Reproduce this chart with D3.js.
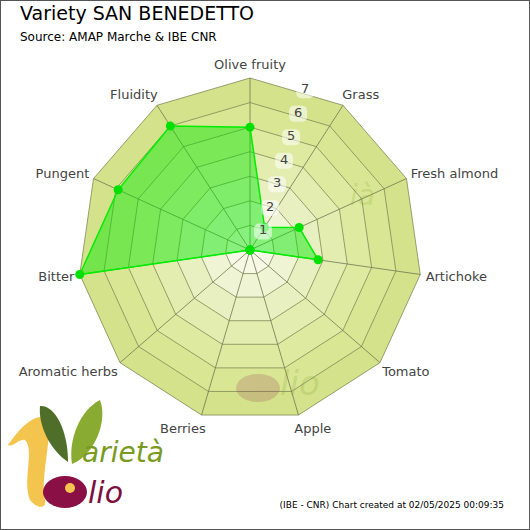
<!DOCTYPE html>
<html><head><meta charset="utf-8">
<script src="https://cdn.jsdelivr.net/npm/d3@7"></script>
<style>body{margin:0;background:#fff}svg{font-family:"DejaVu Sans",sans-serif}</style>
</head><body><div id="chart"></div>
<script>
const axes = ["Olive fruity","Grass","Fresh almond","Artichoke","Tomato","Apple","Berries","Aromatic herbs","Bitter","Pungent","Fluidity"];
const values = [5, 1.1, 2.2, 2.8, 0, 0, 0, 0, 7, 5.9, 6];
const ticks = [1,2,3,4,5,6,7];
const ringColors = ["#f7f9e6","#eff5d4","#e8f0c2","#e3edb0","#deea9f","#d9e694","#d4e28b"];

const W = 530, H = 530, cx = 250, cy = 250, R = 172;
const svg = d3.select("#chart").append("svg").attr("width", W).attr("height", H);
svg.append("rect").attr("x",0.5).attr("y",0.5).attr("width",W-1).attr("height",H-1)
  .attr("fill","#fff").attr("stroke","#555");

const r = d3.scaleLinear().domain([0,7]).range([0,R]);
const ang = d3.scaleLinear().domain([0,axes.length]).range([0,2*Math.PI]);
const pt = (i,v) => [cx + r(v)*Math.sin(ang(i)), cy - r(v)*Math.cos(ang(i))];
const g = svg.append("g");

// rings, outer first
ticks.slice().reverse().forEach(t => {
  g.append("polygon")
    .attr("points", axes.map((a,i) => pt(i,t).join(",")).join(" "))
    .attr("fill", ringColors[t-1]).attr("stroke","#7f8a55").attr("stroke-width",0.8);
});
axes.forEach((a,i) => {
  const [x,y] = pt(i,7);
  g.append("line").attr("x1",cx).attr("y1",cy).attr("x2",x).attr("y2",y)
    .attr("stroke","#6f7850").attr("stroke-width",0.8);
});

// watermark logo inside chart (faint)
const wm = g.append("g").attr("opacity",0.18);
wm.append("ellipse").attr("cx",258).attr("cy",388).attr("rx",22).attr("ry",14).attr("fill","#8a1a4a");
wm.append("text").attr("x",280).attr("y",395).attr("font-size",34).attr("font-style","italic").attr("fill","#7a9a20").text("lio");
wm.append("text").attr("x",350).attr("y",205).attr("font-size",28).attr("font-style","italic").attr("fill","#7a9a20").text("ià");

// data polygon
const line = d3.line();
g.append("path").attr("d", line(values.map((v,i) => pt(i,v))) + "Z")
  .attr("fill","rgba(0,230,0,0.45)").attr("stroke","#00ee00").attr("stroke-width",1.5);
g.selectAll("circle.pt").data(values).join("circle").attr("class","pt")
  .attr("cx",(d,i) => pt(i,d)[0]).attr("cy",(d,i) => pt(i,d)[1]).attr("r",4.5).attr("fill","#00e000");

// tick labels
const la = 0.29;
ticks.forEach(t => {
  const x = cx + r(t)*Math.sin(la) + 6, y = cy - r(t)*Math.cos(la) + 8;
  g.append("rect").attr("x",x-9).attr("y",y-11).attr("width",18).attr("height",16).attr("rx",5)
    .attr("fill","rgba(255,255,255,0.55)");
  g.append("text").attr("x",x).attr("y",y).attr("text-anchor","middle").attr("font-size",13)
    .attr("fill","#444").text(t);
});

// axis labels
axes.forEach((a,i) => {
  const [x,y] = pt(i,7.55);
  const s = Math.sin(ang(i));
  g.append("text").attr("x",x).attr("y",y+5)
    .attr("text-anchor", Math.abs(s) < 0.2 ? "middle" : (s > 0 ? "start" : "end"))
    .attr("dx", Math.abs(s) < 0.2 ? 0 : (s > 0 ? -8 : 8))
    .attr("font-size",13).attr("fill","#444").text(a);
});

// titles
svg.append("text").attr("x",20).attr("y",20).attr("font-size",19).attr("fill","#000").text("Variety SAN BENEDETTO");
svg.append("text").attr("x",20).attr("y",41).attr("font-size",12).attr("fill","#000").text("Source: AMAP Marche & IBE CNR");
svg.append("text").attr("x",504).attr("y",508).attr("text-anchor","end").attr("font-size",9).attr("fill","#000")
  .text("(IBE - CNR) Chart created at 02/05/2025 00:09:35");

// logo
const lg = svg.append("g");
lg.append("path").attr("d","M8,445 C25,420 40,412 48,420 C52,440 40,480 45,500 C47,508 38,510 30,500 C22,480 35,450 25,440 C20,438 12,448 8,445Z").attr("fill","#f3c44e");
lg.append("path").attr("d","M40,406 C55,405 68,430 68,462 C50,450 38,425 40,406Z").attr("fill","#4f6e2a");
lg.append("path").attr("d","M100,400 C108,420 95,455 72,464 C68,440 80,410 100,400Z").attr("fill","#8aab32");
lg.append("ellipse").attr("cx",65).attr("cy",492).attr("rx",22).attr("ry",16).attr("fill","#8a0f45");
lg.append("circle").attr("cx",70).attr("cy",488).attr("r",5).attr("fill","#f3c44e");
lg.append("text").attr("x",82).attr("y",462).attr("font-size",28).attr("font-style","italic").attr("fill","#7a9a20").text("arietà");
lg.append("text").attr("x",88).attr("y",503).attr("font-size",30).attr("font-style","italic").attr("fill","#7a0f40").text("lio");
</script></body></html>
